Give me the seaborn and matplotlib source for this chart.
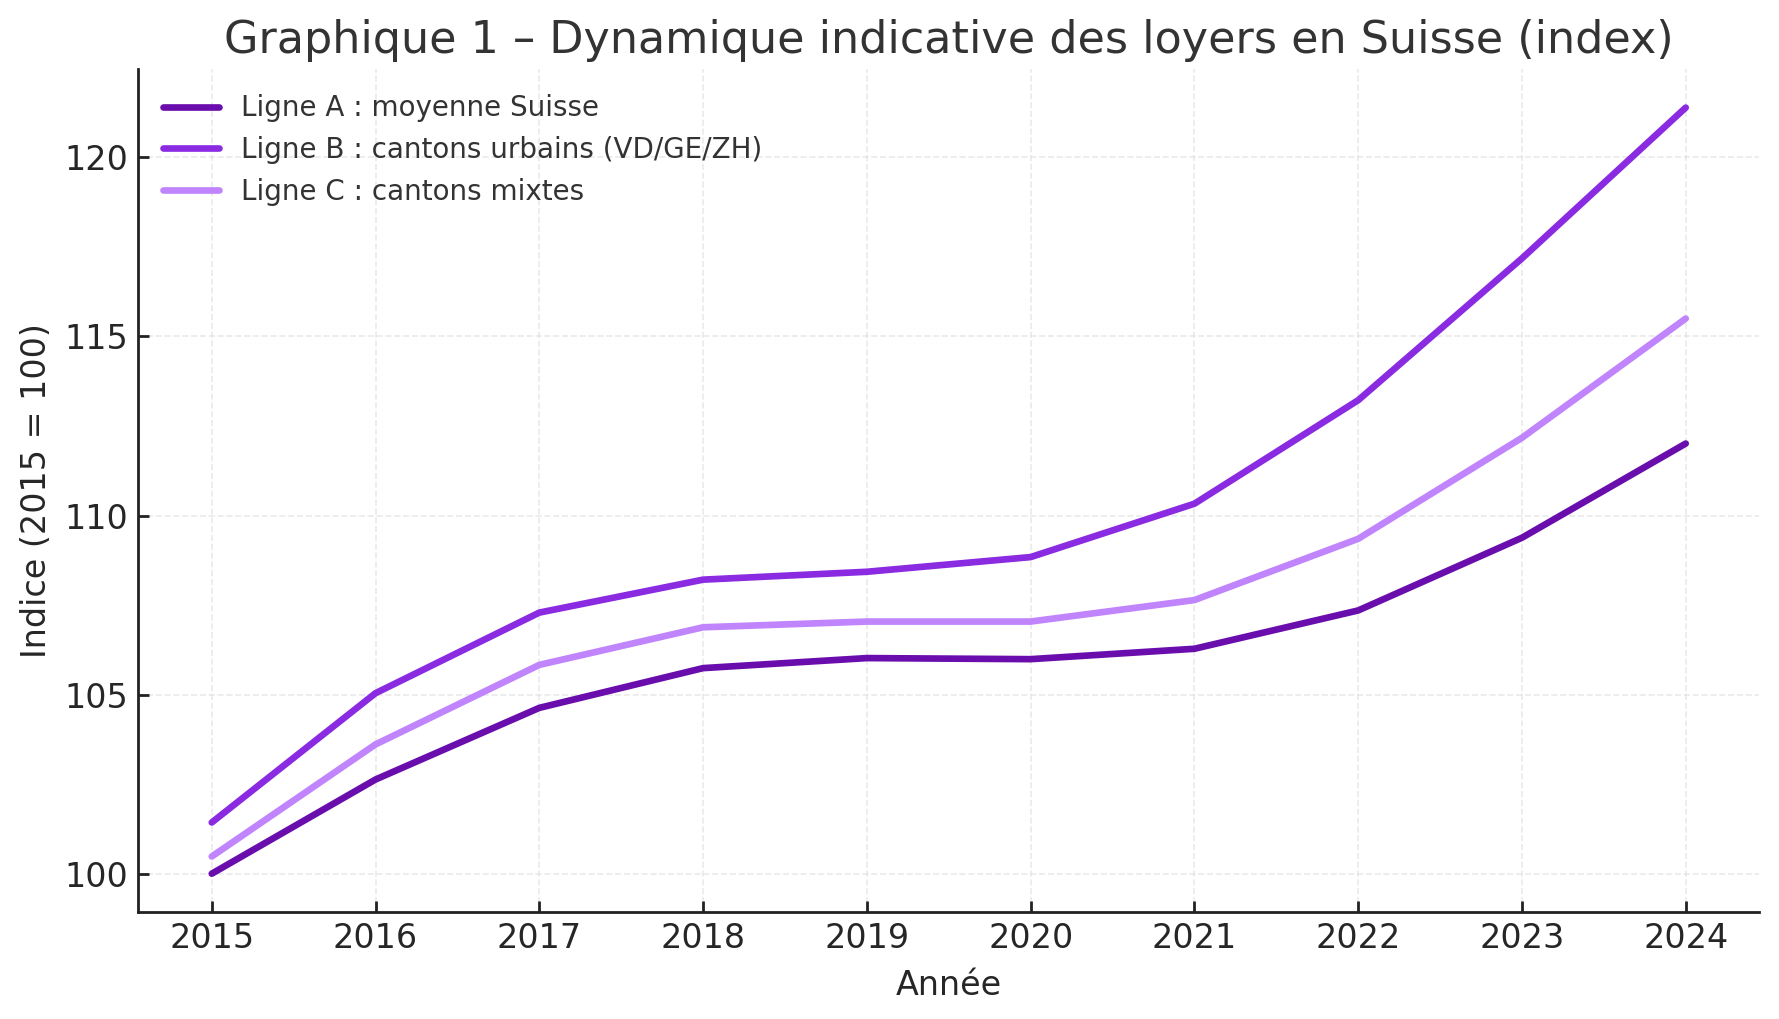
import seaborn as sns
import pandas as pd
import matplotlib.pyplot as plt

annees = [2015, 2016, 2017, 2018, 2019, 2020, 2021, 2022, 2023, 2024]

ligne_a = [100.0, 102.63, 104.63, 105.74, 106.02, 105.99, 106.28, 107.35, 109.38, 112.01]
ligne_b = [101.43, 105.04, 107.29, 108.21, 108.43, 108.84, 110.33, 113.22, 117.18, 121.39]
ligne_c = [100.48, 103.61, 105.83, 106.88, 107.04, 107.04, 107.64, 109.35, 112.17, 115.50]

noms = ["Ligne A : moyenne Suisse",
        "Ligne B : cantons urbains (VD/GE/ZH)",
        "Ligne C : cantons mixtes"]
couleurs = ["#6A0DAD", "#8A2BE2", "#C084FC"]


def build_frame():
    rows = []
    for nom, serie in zip(noms, [ligne_a, ligne_b, ligne_c]):
        for an, v in zip(annees, serie):
            rows.append({"Année": an, "Indice": v, "Série": nom})
    return pd.DataFrame(rows)


df = build_frame()

sns.set_style("white")
plt.rcParams["font.family"] = ["DejaVu Sans"]

fig = plt.figure(figsize=(8.895, 5.095), dpi=200)
ax = fig.add_axes([0.0776, 0.105, 0.9114, 0.827])

sns.lineplot(data=df, x="Année", y="Indice", hue="Série",
             palette=couleurs, linewidth=2.4, ax=ax)

ax.set_title("Graphique 1 – Dynamique indicative des loyers en Suisse (index)",
             fontsize=16, color="#333333")
ax.set_xlabel("Année", fontsize=12, labelpad=5)
ax.set_ylabel("Indice (2015 = 100)", fontsize=12)
ax.set_xticks(annees)
ax.set_yticks([100, 105, 110, 115, 120])
ax.tick_params(axis="both", labelsize=12, direction="in", length=4,
               width=1, left=True, bottom=True, color="#222222")

ax.grid(True, linestyle="--", linewidth=0.6, color="#dddddd", alpha=0.6)
sns.despine(ax=ax)
for s in ["left", "bottom"]:
    ax.spines[s].set_color("#222222")
    ax.spines[s].set_linewidth(1.0)

leg = ax.legend(loc="upper left", frameon=False, fontsize=10)
for t in leg.get_texts():
    t.set_color("#333333")
for l in leg.get_lines():
    l.set_linewidth(2.4)

fig.savefig("out.png", dpi=200)
